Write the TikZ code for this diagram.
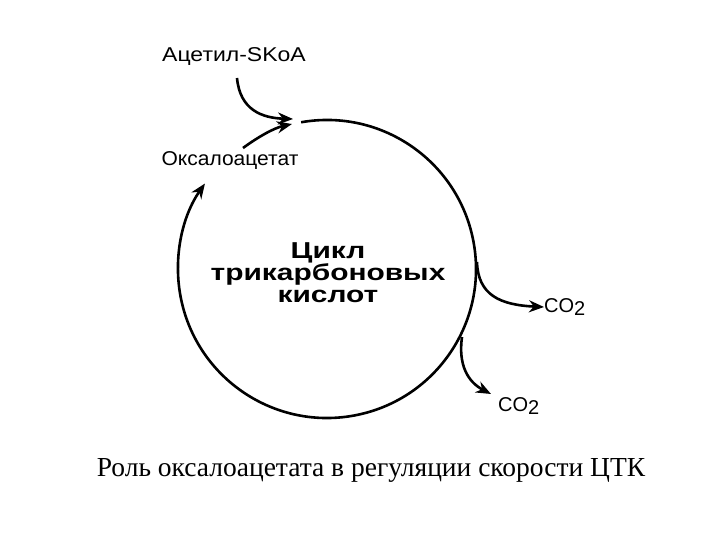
\documentclass[tikz,border=0pt]{standalone}
\usepackage{fontspec}
\setmainfont{Liberation Serif}
\setsansfont{Liberation Sans}
\usetikzlibrary{arrows.meta}
\tikzset{
  conn/.style={line width=2.6pt, -{Stealth[length=15pt,width=12pt]}},
  lbl/.style={font=\sffamily\fontsize{20}{22}\selectfont, inner sep=0pt},
}
\begin{document}
\begin{tikzpicture}[x=1pt,y=-1pt]
\useasboundingbox (0,0) rectangle (720,540);
\coordinate (C) at (327,269);
% main cycle
\draw[conn] ([shift={(-100:149)}]C) arc[start angle=-100, end angle=215, radius=149];
% center text
\node[font=\sffamily\bfseries\fontsize{23}{22}\selectfont, align=center, inner sep=0pt] (cyc) at (328,273)
  {\scalebox{1.3}[1]{Цикл}\\\scalebox{1.3}[1]{трикарбоновых}\\\scalebox{1.3}[1]{кислот}};
% labels
\node[lbl] (acetyl) at (234,57) {\scalebox{1.15}[1]{Ацетил-SKoA}};
\node[lbl] (oxa) at (230,161) {\scalebox{1.05}[1]{Оксалоацетат}};
\node[lbl, anchor=west] (co2a) at (544,307) {CO\raisebox{-0.35ex}{2}};
\node[lbl, anchor=west] (co2b) at (498,406) {CO\raisebox{-0.35ex}{2}};
% entry arrows
\coordinate (join) at (293,119);
\draw[conn] (237,78) .. controls (240,110) and (262,118) .. (join);
\draw[conn] (243,148) .. controls (258,137) and (274,128) .. (292,124);
% CO2 release
\coordinate (b1) at (477,262);
\coordinate (b2) at (462,337);
\draw[conn] (b1) .. controls (478,295) and (500,305) .. (co2a.west);
\draw[conn] (b2) .. controls (458,365) and (468,382) .. (491,394);
% caption
\node[font=\fontsize{27.5}{30}\selectfont, inner sep=0pt] (cap) at (371,470) {Роль оксалоацетата в регуляции скорости ЦТК};
\end{tikzpicture}
\end{document}
